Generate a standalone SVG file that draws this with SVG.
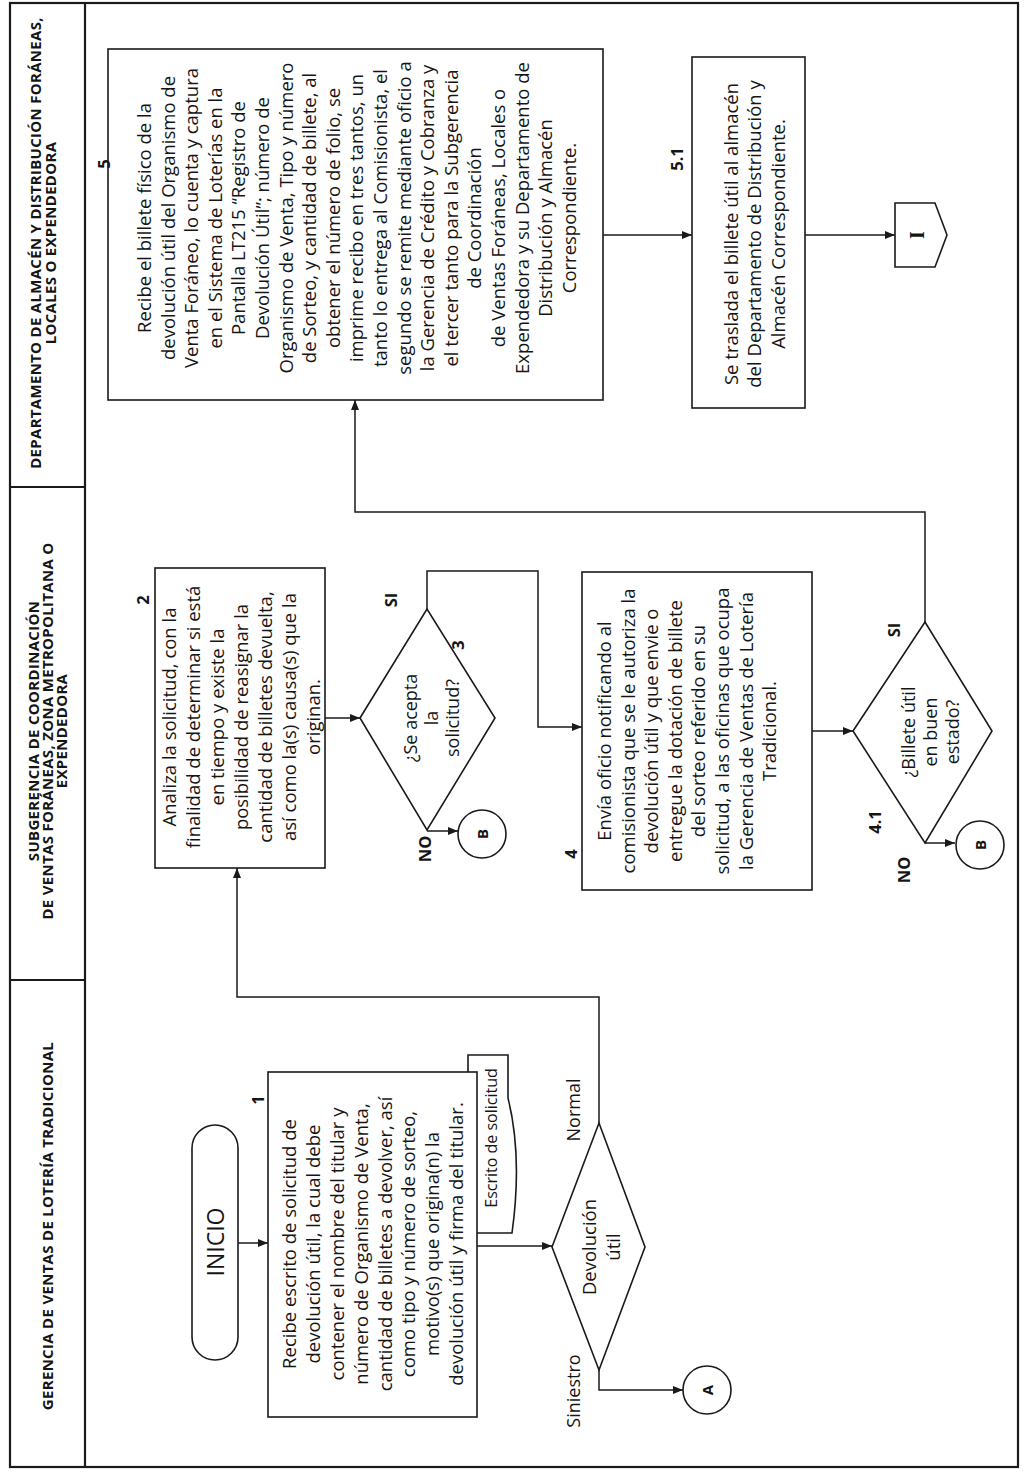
<svg xmlns="http://www.w3.org/2000/svg" width="1026" height="1481" viewBox="0 0 1026 1481">
<style>
  .ln{fill:none;stroke:#1a1a1a;stroke-width:1.5}
  .bx{fill:#fff;stroke:#1a1a1a;stroke-width:1.6}
  .fr{fill:none;stroke:#1a1a1a;stroke-width:2.2}
  text{font-family:"Open Sans","Noto Sans","DejaVu Sans",sans-serif;fill:#151515;text-anchor:middle;dominant-baseline:central}
  .t{font-size:18.5px}
  .h{font-size:15px;font-weight:bold;letter-spacing:0.3px}
  .n{font-size:16.5px;font-weight:bold}
  .c{font-size:15px;font-weight:bold}
</style>
<defs>
  <marker id="arr" viewBox="0 0 10 8" refX="10" refY="4" markerWidth="10" markerHeight="8" markerUnits="userSpaceOnUse" orient="auto">
    <path d="M0,0 L10,4 L0,8 z" fill="#1a1a1a"/>
  </marker>
</defs>
<rect width="1026" height="1481" fill="#fff"/>

<g id="frame">
  <rect class="fr" x="10" y="3" width="1008" height="1464"/>
  <line class="fr" x1="85" y1="3" x2="85" y2="1467"/>
  <line class="fr" x1="10" y1="487" x2="85" y2="487"/>
  <line class="fr" x1="10" y1="980" x2="85" y2="980"/>
</g>

<g id="lane-headers">
  <g transform="translate(0,243) rotate(-90)">
    <text class="h"><tspan x="0" y="35">DEPARTAMENTO DE ALMACÉN Y DISTRIBUCIÓN FORÁNEAS,</tspan><tspan x="0" y="50">LOCALES O EXPENDEDORA</tspan></text>
  </g>
  <g transform="translate(0,731) rotate(-90)">
    <text class="h"><tspan x="0" y="33">SUBGERENCIA DE COORDINACIÓN</tspan><tspan x="0" y="47">DE VENTAS FORÁNEAS, ZONA METROPOLITANA O</tspan><tspan x="0" y="61">EXPENDEDORA</tspan></text>
  </g>
  <g transform="translate(0,1226) rotate(-90)">
    <text class="h"><tspan x="0" y="47">GERENCIA DE VENTAS DE LOTERÍA TRADICIONAL</tspan></text>
  </g>
</g>

<g id="connectors">
  <path class="ln" d="M238,1243 H268" marker-end="url(#arr)"/>
  <path class="ln" d="M477,1246 H552" marker-end="url(#arr)"/>
  <path class="ln" d="M599,1123 V997 H237 V868" marker-end="url(#arr)"/>
  <path class="ln" d="M599,1370 V1390 H683" marker-end="url(#arr)"/>
  <path class="ln" d="M325,718 H360" marker-end="url(#arr)"/>
  <path class="ln" d="M427,609 V571 H538 V727 H582" marker-end="url(#arr)"/>
  <path class="ln" d="M427,831 H458" marker-end="url(#arr)"/>
  <path class="ln" d="M812,731 H853" marker-end="url(#arr)"/>
  <path class="ln" d="M925,843 H955" marker-end="url(#arr)"/>
  <path class="ln" d="M925,622 V512 H355 V400" marker-end="url(#arr)"/>
  <path class="ln" d="M603,235 H692" marker-end="url(#arr)"/>
  <path class="ln" d="M805,235 H895" marker-end="url(#arr)"/>
  <g transform="translate(0,1110) rotate(-90)"><text class="t" style="font-size:18px" x="0" y="573">Normal</text></g>
  <g transform="translate(0,1391) rotate(-90)"><text class="t" style="font-size:18px" x="0" y="573">Siniestro</text></g>
  <g transform="translate(0,600) rotate(-90)"><text class="n" x="0" y="390">SI</text></g>
  <g transform="translate(0,849) rotate(-90)"><text class="n" x="0" y="424">NO</text></g>
  <g transform="translate(0,630) rotate(-90)"><text class="n" x="0" y="893">SI</text></g>
  <g transform="translate(0,870) rotate(-90)"><text class="n" x="0" y="903">NO</text></g>
</g>

<g id="inicio">
  <rect class="bx" x="192" y="1125" width="46" height="235" rx="23" ry="23"/>
  <g transform="translate(0,1242) rotate(-90)"><text x="0" y="215" style="font-size:23px">INICIO</text></g>
</g>

<g id="doc-escrito">
  <path class="bx" d="M468,1055 H508 V1098 C516,1130 520,1175 512,1233 H468 Z"/>
  <g transform="translate(0,1138) rotate(-90)"><text x="0" y="491" style="font-size:16px">Escrito de solicitud</text></g>
</g>

<g id="step1">
  <rect class="bx" x="268" y="1072" width="209" height="345"/>
  <g transform="translate(0,1100) rotate(-90)"><text class="n" x="0" y="257">1</text></g>
  <g transform="translate(0,1244) rotate(-90)">
    <text class="t"><tspan x="0" y="288">Recibe escrito de solicitud de</tspan><tspan x="0" y="312">devolución útil, la cual debe</tspan><tspan x="0" y="336">contener el nombre del titular y</tspan><tspan x="0" y="360">número de Organismo de Venta,</tspan><tspan x="0" y="384">cantidad de billetes a devolver, así</tspan><tspan x="0" y="407">como tipo y número de sorteo,</tspan><tspan x="0" y="431">motivo(s) que origina(n) la</tspan><tspan x="0" y="455">devolución útil y firma del titular.</tspan></text>
  </g>
</g>

<g id="decision-devolucion">
  <polygon class="bx" points="552,1247 599,1123 645,1247 599,1370"/>
  <g transform="translate(0,1247) rotate(-90)"><text class="t"><tspan x="0" y="588">Devolución</tspan><tspan x="0" y="612">útil</tspan></text></g>
</g>

<g id="connector-A">
  <circle class="bx" cx="707" cy="1390" r="24"/>
  <g transform="translate(0,1390) rotate(-90)"><text class="c" x="0" y="707">A</text></g>
</g>

<g id="step2">
  <rect class="bx" x="155" y="568" width="170" height="300"/>
  <g transform="translate(0,600) rotate(-90)"><text class="n" x="0" y="142">2</text></g>
  <g transform="translate(0,717) rotate(-90)">
    <text class="t"><tspan x="0" y="168">Analiza la solicitud, con la</tspan><tspan x="0" y="192">finalidad de determinar si está</tspan><tspan x="0" y="216">en tiempo y existe la</tspan><tspan x="0" y="240">posibilidad de reasignar la</tspan><tspan x="0" y="264">cantidad de billetes devuelta,</tspan><tspan x="0" y="288">así como la(s) causa(s) que la</tspan><tspan x="0" y="312">originan.</tspan></text>
  </g>
</g>

<g id="decision3">
  <polygon class="bx" points="360,718 427,609 495,718 427,830"/>
  <g transform="translate(0,645) rotate(-90)"><text class="n" x="0" y="457">3</text></g>
  <g transform="translate(0,718) rotate(-90)"><text class="t" style="font-size:18px"><tspan x="0" y="410">¿Se acepta</tspan><tspan x="0" y="431">la</tspan><tspan x="0" y="452">solicitud?</tspan></text></g>
</g>

<g id="connector-B1">
  <circle class="bx" cx="482" cy="834" r="24"/>
  <g transform="translate(0,834) rotate(-90)"><text class="c" x="0" y="482">B</text></g>
</g>

<g id="step4">
  <rect class="bx" x="582" y="572" width="230" height="318"/>
  <g transform="translate(0,854) rotate(-90)"><text class="n" x="0" y="570">4</text></g>
  <g transform="translate(0,731) rotate(-90)">
    <text class="t"><tspan x="0" y="603">Envía oficio notificando al</tspan><tspan x="0" y="627">comisionista que se le autoriza la</tspan><tspan x="0" y="650">devolución útil y que envie o</tspan><tspan x="0" y="674">entregue la dotación de billete</tspan><tspan x="0" y="697">del sorteo referido en su</tspan><tspan x="0" y="721">solicitud, a las oficinas que ocupa</tspan><tspan x="0" y="745">la Gerencia de Ventas de Lotería</tspan><tspan x="0" y="768">Tradicional.</tspan></text>
  </g>
</g>

<g id="decision4-1">
  <polygon class="bx" points="853,731 925,622 992,731 925,843"/>
  <g transform="translate(0,822) rotate(-90)"><text class="n" x="0" y="874">4.1</text></g>
  <g transform="translate(0,732) rotate(-90)"><text class="t" style="font-size:18px"><tspan x="0" y="908">¿Billete útil</tspan><tspan x="0" y="930">en buen</tspan><tspan x="0" y="952">estado?</tspan></text></g>
</g>

<g id="connector-B2">
  <circle class="bx" cx="980" cy="845" r="24"/>
  <g transform="translate(0,845) rotate(-90)"><text class="c" x="0" y="980">B</text></g>
</g>

<g id="step5">
  <rect class="bx" x="108" y="49" width="495" height="351"/>
  <g transform="translate(0,164) rotate(-90)"><text class="n" x="0" y="103">5</text></g>
  <g transform="translate(0,218) rotate(-90)">
    <text class="t"><tspan x="0" y="143">Recibe el billete físico de la</tspan><tspan x="0" y="167">devolución útil del Organismo de</tspan><tspan x="0" y="190">Venta Foráneo, lo cuenta y captura</tspan><tspan x="0" y="214">en el Sistema de Loterías en la</tspan><tspan x="0" y="237">Pantalla LT215 “Registro de</tspan><tspan x="0" y="261">Devolución Útil”; número de</tspan><tspan x="0" y="285">Organismo de Venta, Tipo y número</tspan><tspan x="0" y="308">de Sorteo, y cantidad de billete, al</tspan><tspan x="0" y="332">obtener el número de folio, se</tspan><tspan x="0" y="355">imprime recibo en tres tantos, un</tspan><tspan x="0" y="379">tanto lo entrega al Comisionista, el</tspan><tspan x="0" y="403">segundo se remite mediante oficio a</tspan><tspan x="0" y="426">la Gerencia de Crédito y Cobranza y</tspan><tspan x="0" y="450">el tercer tanto para la Subgerencia</tspan><tspan x="0" y="473">de Coordinación</tspan><tspan x="0" y="497">de Ventas Foráneas, Locales o</tspan><tspan x="0" y="521">Expendedora y su Departamento de</tspan><tspan x="0" y="544">Distribución y Almacén</tspan><tspan x="0" y="568">Correspondiente.</tspan></text>
  </g>
</g>

<g id="step5-1">
  <rect class="bx" x="692" y="57" width="113" height="351"/>
  <g transform="translate(0,159) rotate(-90)"><text class="n" x="0" y="676">5.1</text></g>
  <g transform="translate(0,234) rotate(-90)">
    <text class="t"><tspan x="0" y="730">Se traslada el billete útil al almacén</tspan><tspan x="0" y="753">del Departamento de Distribución y</tspan><tspan x="0" y="777">Almacén Correspondiente.</tspan></text>
  </g>
</g>

<g id="offpage-I">
  <polygon class="bx" points="895,203 935,203 947,235 935,267 895,267"/>
  <g transform="translate(0,235) rotate(-90)"><text x="0" y="917" style="font-family:'Liberation Serif',serif;font-size:20px;font-weight:bold">I</text></g>
</g>
</svg>
